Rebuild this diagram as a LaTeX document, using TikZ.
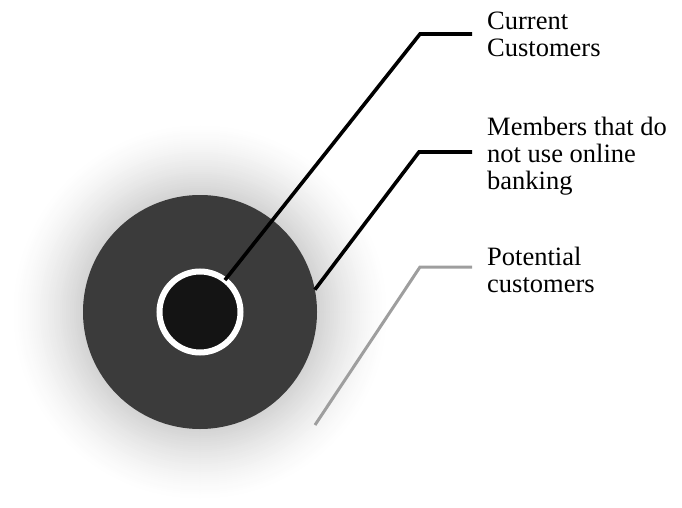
\documentclass[tikz,border=0pt]{standalone}
\usepackage{fontspec}
\setmainfont{Liberation Serif}
\usetikzlibrary{positioning}

\begin{document}
\begin{tikzpicture}[x=1pt, y=-1pt,
        ring/.style={circle, inner sep=0pt, outer sep=0pt},
        lbl/.style={anchor=north west, inner sep=0pt, align=left,
                    font=\fontsize{26.5}{27}\selectfont},
        lead/.style={line width=3.6pt, line join=miter}
      ]
        \useasboundingbox (0,0) rectangle (682,508);
        % soft halo, fading out from the disk edge
        \foreach \r in {190,188,...,118} {
          \pgfmathsetmacro{\p}{17*((190-\r)/72)^1.4}
          \fill[black!\p] (200,312) circle[radius=\r];
        }
        % disk and core
        \node[ring, minimum size=234pt, fill=black!77] (disk) at (200,312) {};
        \node[ring, minimum size=81pt, fill=black!92, draw=white, line width=6pt] (core) at (200,312) {};
        % labels
        \node[lbl] (cur) at (487,12)  {Current\\Customers};
        \node[lbl] (mem) at (487,117) {Members that do\\not use online\\banking};
        \node[lbl] (pot) at (487,247) {Potential\\customers};
        \coordinate (e1) at (420,34);
        \coordinate (e2) at (419,152);
        \coordinate (e3) at (420,267);
        \coordinate (p3) at (315,425);
        \draw[lead] (core.52) -- (e1) -- ([xshift=-15pt]e1 -| cur.west);
        \draw[lead] (disk.11) -- (e2) -- ([xshift=-15pt]e2 -| mem.west);
        \draw[lead, black!38, line width=3pt] (p3) -- (e3) -- ([xshift=-15pt]e3 -| pot.west);
      \end{tikzpicture}
\end{document}
